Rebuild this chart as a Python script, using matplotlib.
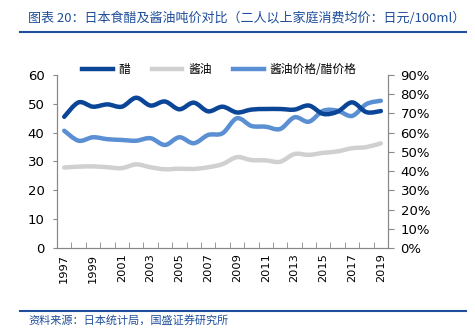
import matplotlib.pyplot as plt
import numpy as np
from matplotlib.path import Path
from matplotlib.patches import PathPatch
from matplotlib.lines import Line2D
from matplotlib.ticker import FuncFormatter

# Japanese vinegar vs soy sauce average price (yen / 100ml), households of 2+
years = [str(y) for y in range(1997, 2020)]
vinegar = [45.5, 50.5, 49.0, 49.8, 49.0, 52.1, 49.4, 50.8, 48.1, 50.4, 47.4, 49.0,
           47.0, 48.0, 48.2, 48.2, 48.0, 49.4, 46.5, 47.3, 50.5, 47.1, 47.5]
soy = [27.9, 28.2, 28.3, 28.0, 27.7, 29.0, 28.0, 27.3, 27.5, 27.4, 28.0, 29.1,
       31.5, 30.5, 30.4, 29.9, 32.6, 32.3, 33.0, 33.5, 34.6, 35.0, 36.3]
ratio = [61.0, 55.8, 57.6, 56.6, 56.2, 55.8, 57.1, 53.6, 57.6, 54.5, 58.8, 59.7,
         67.5, 63.5, 63.1, 61.9, 68.0, 65.7, 71.4, 71.4, 68.7, 74.9, 76.6]

DARK = '#0a4597'
GRAY = '#d0d0d0'
LIGHT = '#5b8fd3'
TXT_BLUE = '#1f4e9a'
CJK = ['Noto Sans CJK SC', 'DejaVu Sans']


def smooth_line(ax, xs, ys, color, lw):
    """Draw a Catmull-Rom style smoothed line through the points as Bezier curves."""
    pts = np.column_stack([xs, ys]).astype(float)
    n = len(pts)
    verts = [pts[0]]
    codes = [Path.MOVETO]
    for i in range(n - 1):
        p0 = pts[i - 1] if i > 0 else pts[i]
        p1 = pts[i]
        p2 = pts[i + 1]
        p3 = pts[i + 2] if i + 2 < n else pts[i + 1]
        c1 = p1 + (p2 - p0) / 6.0
        c2 = p2 - (p3 - p1) / 6.0
        verts += [c1, c2, p2]
        codes += [Path.CURVE4] * 3
    patch = PathPatch(Path(verts, codes), facecolor='none', edgecolor=color,
                      lw=lw, capstyle='round', joinstyle='round')
    ax.add_patch(patch)


fig = plt.figure(figsize=(4.75, 3.34), dpi=100)
ax = fig.add_axes([0.12, 0.2575, 0.697, 0.518])
ax2 = ax.twinx()

x = np.arange(len(years))
smooth_line(ax, x, soy, GRAY, 3.2)
smooth_line(ax2, x, ratio, LIGHT, 3.2)
smooth_line(ax, x, vinegar, DARK, 3.2)
ax.set_zorder(ax2.get_zorder() + 1)
ax.patch.set_visible(False)

ax.set_xlim(-0.5, len(years) - 0.5)
ax.set_ylim(0, 60)
ax2.set_ylim(0, 90)
ax.set_yticks(range(0, 61, 10))
ax2.set_yticks(range(0, 91, 10))
ax2.yaxis.set_major_formatter(FuncFormatter(lambda v, p: f'{int(v)}%'))

ax.set_xticks(x[::2])
ax.set_xticklabels(years[::2], rotation=90)
ax.set_xticks(np.arange(-0.5, len(years), 1), minor=True)
ax.tick_params(axis='x', which='major', length=0, pad=4, labelsize=8.2)
ax.tick_params(axis='x', which='minor', direction='in', length=4, color='#888888')
ax.tick_params(axis='y', length=3, color='#888888', labelsize=9.5, pad=6)
ax2.tick_params(axis='y', length=4, color='#888888', labelsize=9.5, pad=5)

for a in (ax, ax2):
    a.spines['top'].set_visible(False)
    for s in ('left', 'right', 'bottom'):
        a.spines[s].set_color('#888888')
        a.spines[s].set_linewidth(0.8)

handles = [Line2D([], [], color=DARK, lw=3.2),
           Line2D([], [], color=GRAY, lw=3.2),
           Line2D([], [], color=LIGHT, lw=3.2)]
ax.legend(handles, ['醋', '酱油', '酱油价格/醋价格'], loc='center',
          bbox_to_anchor=(0.49, 1.03), ncol=3, frameon=False,
          handlelength=2.6, columnspacing=1.8, handletextpad=0.5,
          prop={'family': CJK, 'size': 8.5})

# header and footer
fig.text(0.058, 0.946, '图表 20：日本食醋及酱油吨价对比（二人以上家庭消费均价：日元/100ml）',
         family=CJK, fontsize=9.4, color=TXT_BLUE, style='italic', va='center')
fig.add_artist(Line2D([0.042, 0.98], [0.904, 0.904], color=TXT_BLUE, lw=1.5))
fig.add_artist(Line2D([0.042, 0.98], [0.069, 0.069], color=TXT_BLUE, lw=1.5))
fig.text(0.06, 0.04, '资料来源：日本统计局，国盛证券研究所',
         family=CJK, fontsize=8, color=TXT_BLUE, style='italic', va='center')

fig.savefig('out.png', dpi=100)
